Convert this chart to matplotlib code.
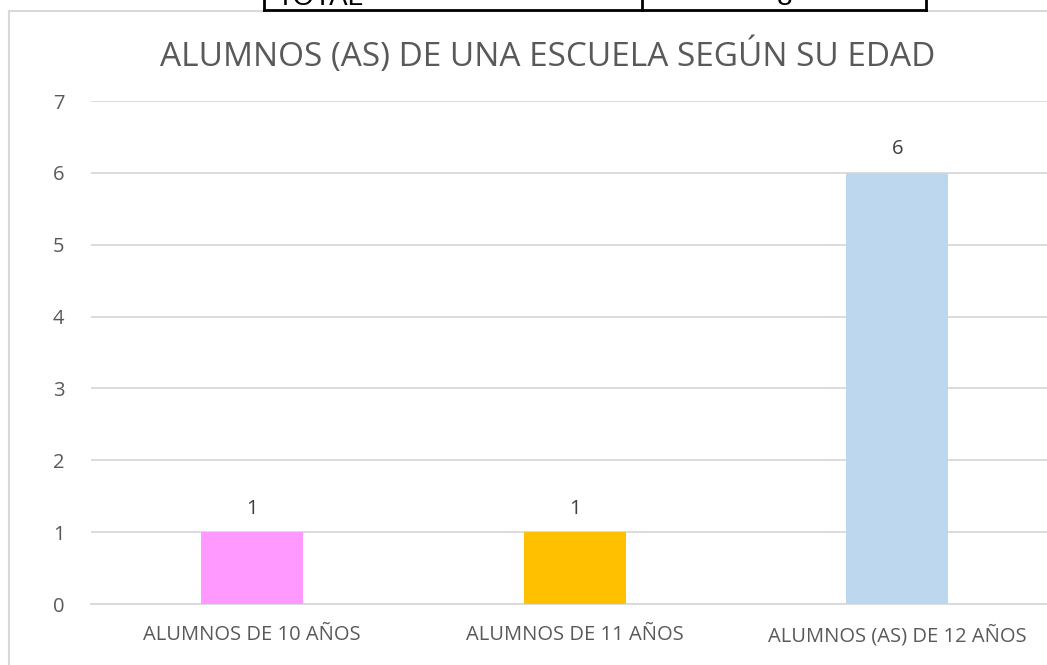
import matplotlib
matplotlib.use("Agg")
import matplotlib.pyplot as plt
from matplotlib.lines import Line2D

categories = ["ALUMNOS DE 10 AÑOS", "ALUMNOS DE 11 AÑOS", "ALUMNOS (AS) DE 12 AÑOS"]
values = [1, 1, 6]
colors = ["#FF99FF", "#FFC000", "#BDD7EE"]
yticks = [0, 1, 2, 3, 4, 5, 6, 7]
title = "ALUMNOS (AS) DE UNA ESCUELA SEGÚN SU EDAD"
table_texts = ["TOTAL", "8"]

W, H = 1047, 665
fig = plt.figure(figsize=(W / 100, H / 100), dpi=100)
fig.patch.set_facecolor("white")
plt.rcParams['font.family'] = ['Open Sans', 'DejaVu Sans']

def fx(px):
    return px / W

def fy(py):
    return 1 - py / H

# chart area border
fig.add_artist(Line2D([fx(9), fx(9)], [fy(11), fy(700)], color="#D9D9D9", lw=1.5))
fig.add_artist(Line2D([fx(9), fx(1100)], [fy(11), fy(11)], color="#D9D9D9", lw=1.5))

# table fragment at top
fig.add_artist(Line2D([fx(264), fx(264)], [fy(-5), fy(10)], color="black", lw=2))
fig.add_artist(Line2D([fx(642), fx(642)], [fy(-5), fy(10)], color="black", lw=2))
fig.add_artist(Line2D([fx(926), fx(926)], [fy(-5), fy(10)], color="black", lw=2))
fig.add_artist(Line2D([fx(264), fx(926)], [fy(10), fy(10)], color="black", lw=2))
fig.text(fx(276), fy(5), table_texts[0], fontsize=20, color="black",
         family="Liberation Sans", ha="left", va="baseline")
fig.text(fx(784), fy(5), table_texts[1], fontsize=20, color="black",
         family="Liberation Sans", ha="center", va="baseline")

left = 91
right = 1058.5
top = 101
bottom = 604
ax = fig.add_axes([fx(left), fy(bottom), (right - left) / W, (bottom - top) / H])
ax.set_facecolor("none")

x = list(range(len(categories)))
ax.bar(x, values, width=0.317, color=colors, zorder=3)
ax.set_xlim(-0.5, 2.5)
ax.set_ylim(0, 7)
ax.set_yticks(yticks)
ax.set_yticklabels([str(t) for t in yticks])
ax.set_xticks(x)
ax.set_xticklabels(categories)
ax.grid(axis="y", color="#D9D9D9", lw=1.3, zorder=0)
for s in ["left", "right", "top"]:
    ax.spines[s].set_visible(False)
ax.spines["bottom"].set_color("#D9D9D9")
ax.spines["bottom"].set_linewidth(1.3)
ax.tick_params(axis="both", length=0, colors="#595959", labelsize=14.5)
ax.tick_params(axis="y", pad=19)
ax.tick_params(axis="x", pad=15)

for xi, v in zip(x, values):
    ax.annotate(str(v), (xi, v), xytext=(0, 17), textcoords="offset points",
                ha="center", va="center", fontsize=14.5, color="#404040")

fig.text(fx(548), fy(56), title, fontsize=24, color="#595959",
         ha="center", va="center")

fig.savefig("out.png", dpi=100, facecolor="white")
